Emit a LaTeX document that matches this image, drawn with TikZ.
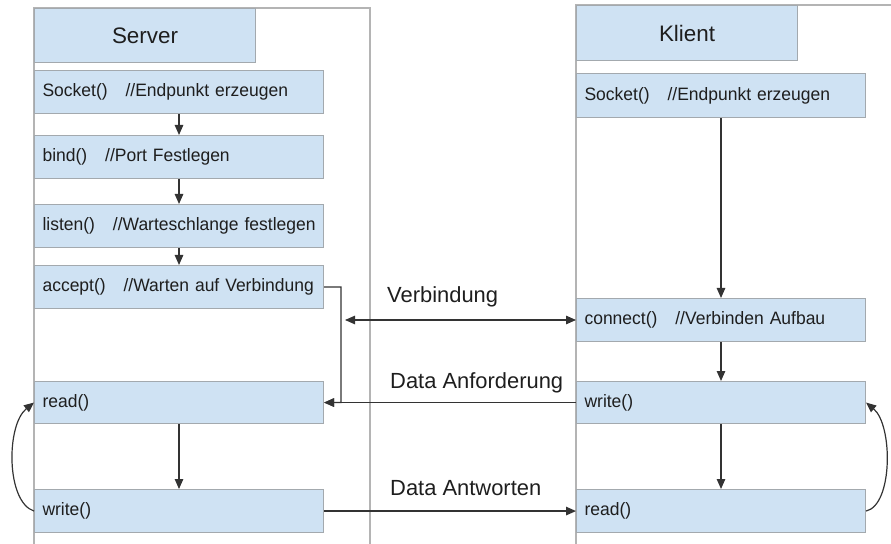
\documentclass[tikz,border=0pt]{standalone}
\usepackage{fontspec}
\setmainfont{Liberation Sans}
\newfontfamily\boxfont[FakeStretch=0.975,WordSpace=0.8]{Liberation Sans}
\usetikzlibrary{arrows.meta}
\definecolor{boxfill}{HTML}{CFE2F3}
\definecolor{boxline}{HTML}{A3A9AE}
\definecolor{laneline}{HTML}{B4B4B4}
\definecolor{ink}{HTML}{1E1E1E}
\definecolor{wire}{HTML}{333333}
\tikzset{
  stepbox/.style={draw=boxline, line width=1.1bp, fill=boxfill, anchor=north west,
    minimum width=289bp, minimum height=43bp, inner xsep=8bp, inner ysep=0pt,
    text width=273bp, align=left, text=ink, font=\boxfont\fontsize{18}{20}\selectfont},
  headbox/.style={draw=boxline, line width=1.1bp, fill=boxfill, anchor=north west,
    minimum width=221bp, inner sep=0pt, align=center, text=ink,
    font=\fontsize{22.5}{26}\selectfont},
  lane/.style={draw=laneline, line width=1.1bp},
  flow/.style={draw=wire, line width=1.2bp, -{Triangle[length=10bp,width=8.5bp]}},
  msg/.style={anchor=west, inner sep=0pt, text=ink, font=\fontsize{22}{26}\selectfont}
}
\newcommand{\gap}{\ \ \ }
\begin{document}
\begin{tikzpicture}[x=1bp,y=-1bp]
\useasboundingbox (0,0) rectangle (891,544);

% swim lanes
\draw[lane] (34,544) -- (34,8) -- (370,8) -- (370,544);
\draw[lane] (576,544) -- (576,5) -- (891,5);

% server column
\node[headbox, minimum height=54bp] (shead) at (34,8) {Server};
\node[stepbox] (ssock)   at (34,70)  {\mbox{Socket()\gap//Endpunkt erzeugen}};
\node[stepbox] (sbind)   at (34,135) {\mbox{bind()\gap//Port Festlegen}};
\node[stepbox] (slisten) at (34,204) {\mbox{listen()\gap//Warteschlange festlegen}};
\node[stepbox] (saccept) at (34,265) {\mbox{accept()\gap//Warten auf Verbindung}};
\node[stepbox, minimum height=42bp] (sread)  at (34,381) {read()};
\node[stepbox] (swrite)  at (34,489) {write()};

% client column
\node[headbox, minimum height=55bp] (chead) at (576,5) {Klient};
\node[stepbox, minimum height=44bp] (csock) at (576,73) {\mbox{Socket()\gap//Endpunkt erzeugen}};
\node[stepbox] (cconn)  at (576,298) {\mbox{connect()\gap//Verbinden Aufbau}};
\node[stepbox, minimum height=42bp] (cwrite) at (576,381) {write()};
\node[stepbox] (cread)  at (576,489) {read()};

% server sequence
\draw[flow] (ssock.south -| 179,0) -- (sbind.north -| 179,0);
\draw[flow] (sbind.south -| 179,0) -- (slisten.north -| 179,0);
\draw[flow] (slisten.south -| 179,0) -- (saccept.north -| 179,0);
\draw[flow] (sread.south -| 179,0) -- (swrite.north -| 179,0);
\draw[flow] (saccept.east) -- (341,287) |- (sread.east);
\draw[flow] (swrite.west) .. controls (6,502) and (6,425) .. (sread.west);

% client sequence
\draw[flow] (csock.south -| 721,0) -- (cconn.north -| 721,0);
\draw[flow] (cconn.south -| 721,0) -- (cwrite.north -| 721,0);
\draw[flow] (cwrite.south -| 721,0) -- (cread.north -| 721,0);
\draw[flow] (cread.east) .. controls (893,505) and (893,425) .. (cwrite.east);

% messages between server and client
\coordinate (vend) at (345,320);
\draw[flow, {Triangle[length=10bp,width=8.5bp]}-{Triangle[length=10bp,width=8.5bp]}] (vend) -- (vend -| cconn.west);
\node[msg] (lverb) at (387,297) {Verbindung};
\draw[flow] (cwrite.west) -- (sread.east);
\node[msg] (lreq) at (390,383) {Data Anforderung};
\draw[flow] (swrite.east) -- (cread.west);
\node[msg] (lans) at (390,488) {Data Antworten};
\end{tikzpicture}
\end{document}
